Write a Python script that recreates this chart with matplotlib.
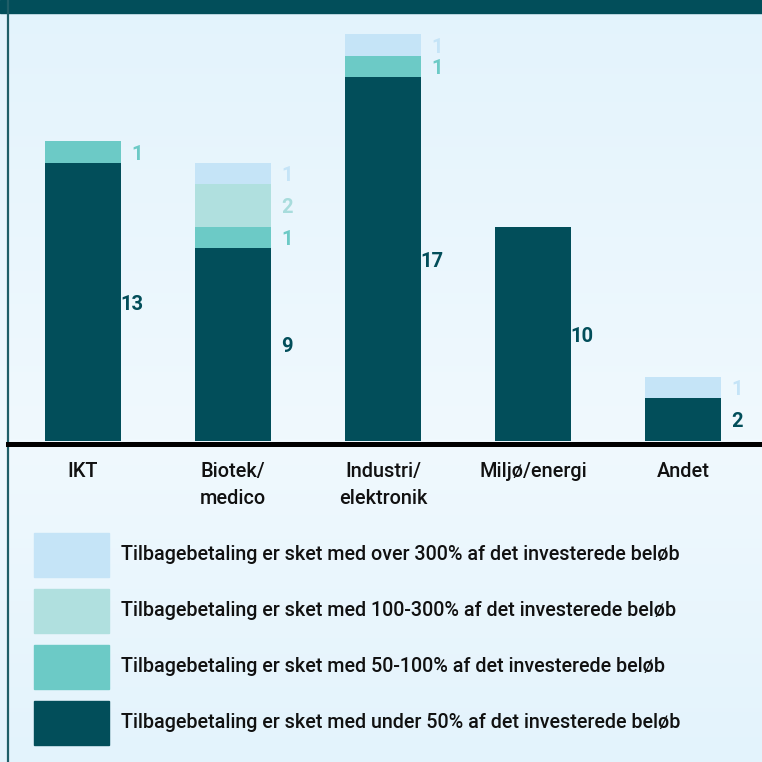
import matplotlib.pyplot as plt
import numpy as np
from matplotlib.patches import Rectangle
from matplotlib.lines import Line2D

plt.rcParams['font.family'] = ['Roboto', 'DejaVu Sans']

# data
categories = ["IKT", "Biotek/\nmedico", "Industri/\nelektronik", "Miljø/energi", "Andet"]
under_50 = [13, 9, 17, 10, 2]
pct_50_100 = [1, 1, 1, 0, 0]
pct_100_300 = [0, 2, 0, 0, 0]
over_300 = [0, 1, 1, 0, 1]

series = [under_50, pct_50_100, pct_100_300, over_300]
colors = ["#024E5A", "#6CCAC6", "#B0E0DF", "#C5E4F7"]
legend_labels = [
    "Tilbagebetaling er sket med over 300% af det investerede beløb",
    "Tilbagebetaling er sket med 100-300% af det investerede beløb",
    "Tilbagebetaling er sket med 50-100% af det investerede beløb",
    "Tilbagebetaling er sket med under 50% af det investerede beløb",
]
legend_colors = colors[::-1]

W = H = 762
fig = plt.figure(figsize=(7.62, 7.62), dpi=100)

def px(x, y):
    # pixel (top-left origin) -> figure fraction
    return x / W, 1 - y / H

# background gradient
bg = fig.add_axes([0, 0, 1, 1], zorder=0)
grad = np.concatenate([np.linspace(0, 1, 440), np.linspace(1, 0, 322)])
top_c = np.array([0xE3, 0xF3, 0xFC]) / 255
mid_c = np.array([0xF0, 0xF9, 0xFE]) / 255
img = top_c[None, :] + grad[:, None] * (mid_c - top_c)[None, :]
bg.imshow(img[:, None, :], aspect="auto", extent=[0, 1, 0, 1])
bg.set_axis_off()

# header band and left border
fig.patches.append(Rectangle(px(0, 13), 1, 13 / H, transform=fig.transFigure,
                             color="#024E5A", zorder=1))
fig.lines.append(Line2D([8 / W, 8 / W], [0, 1], transform=fig.transFigure,
                        color="#1F5E68", lw=1.6, zorder=2))

# main axes: baseline at y=441px, unit = 21.4px, bar pitch 150px
base_y, top_y = 441, 13
unit = 21.4
left_x = 8
ax = fig.add_axes([left_x / W, 1 - base_y / H, (W - left_x) / W, (base_y - top_y) / H], zorder=3)
ax.patch.set_alpha(0)
x0 = (83 - left_x) / 150
ax.set_xlim(-x0, -x0 + (W - left_x) / 150)
ax.set_ylim(0, (base_y - top_y) / unit)
ax.set_axis_off()

x = np.arange(len(categories))
width = 76 / 150
bottom = np.zeros(len(categories))
label_colors = ["#024E5A", "#6CCAC6", "#A8DCDC", "#C5E4F7"]
for vals, col, lcol in zip(series, colors, label_colors):
    vals = np.array(vals, dtype=float)
    ax.bar(x, vals, width, bottom=bottom, color=col, linewidth=0)
    for xi, v, b in zip(x, vals, bottom):
        if v > 0:
            ax.text(xi + width / 2 + 22 / 150, b + v / 2 - 0.1, f"{int(v)}", ha="right", va="center",
                    color=lcol, fontsize=14.5, fontweight="semibold")
    bottom += vals

# baseline
fig.lines.append(Line2D([8 / W, 1], [1 - 443.5 / H] * 2, transform=fig.transFigure,
                        color="black", lw=3.6, zorder=4))

# category labels
for xi, cat in zip(x, categories):
    ax.text(xi, -21 / unit, cat, ha="center", va="top", fontsize=14.3,
            fontweight="medium", linespacing=1.5, color="#111111")

# legend
box_tops = [533, 589, 645, 701]
for top, col, lab in zip(box_tops, legend_colors, legend_labels):
    fig.patches.append(Rectangle(px(34, top + 44), 75 / W, 44 / H, transform=fig.transFigure,
                                 color=col, zorder=3))
    fig.text(121 / W, 1 - (top + 22) / H, lab, ha="left", va="center", fontsize=14.2,
             fontweight="medium", color="#111111", zorder=3)

fig.savefig("out.png", dpi=100)
